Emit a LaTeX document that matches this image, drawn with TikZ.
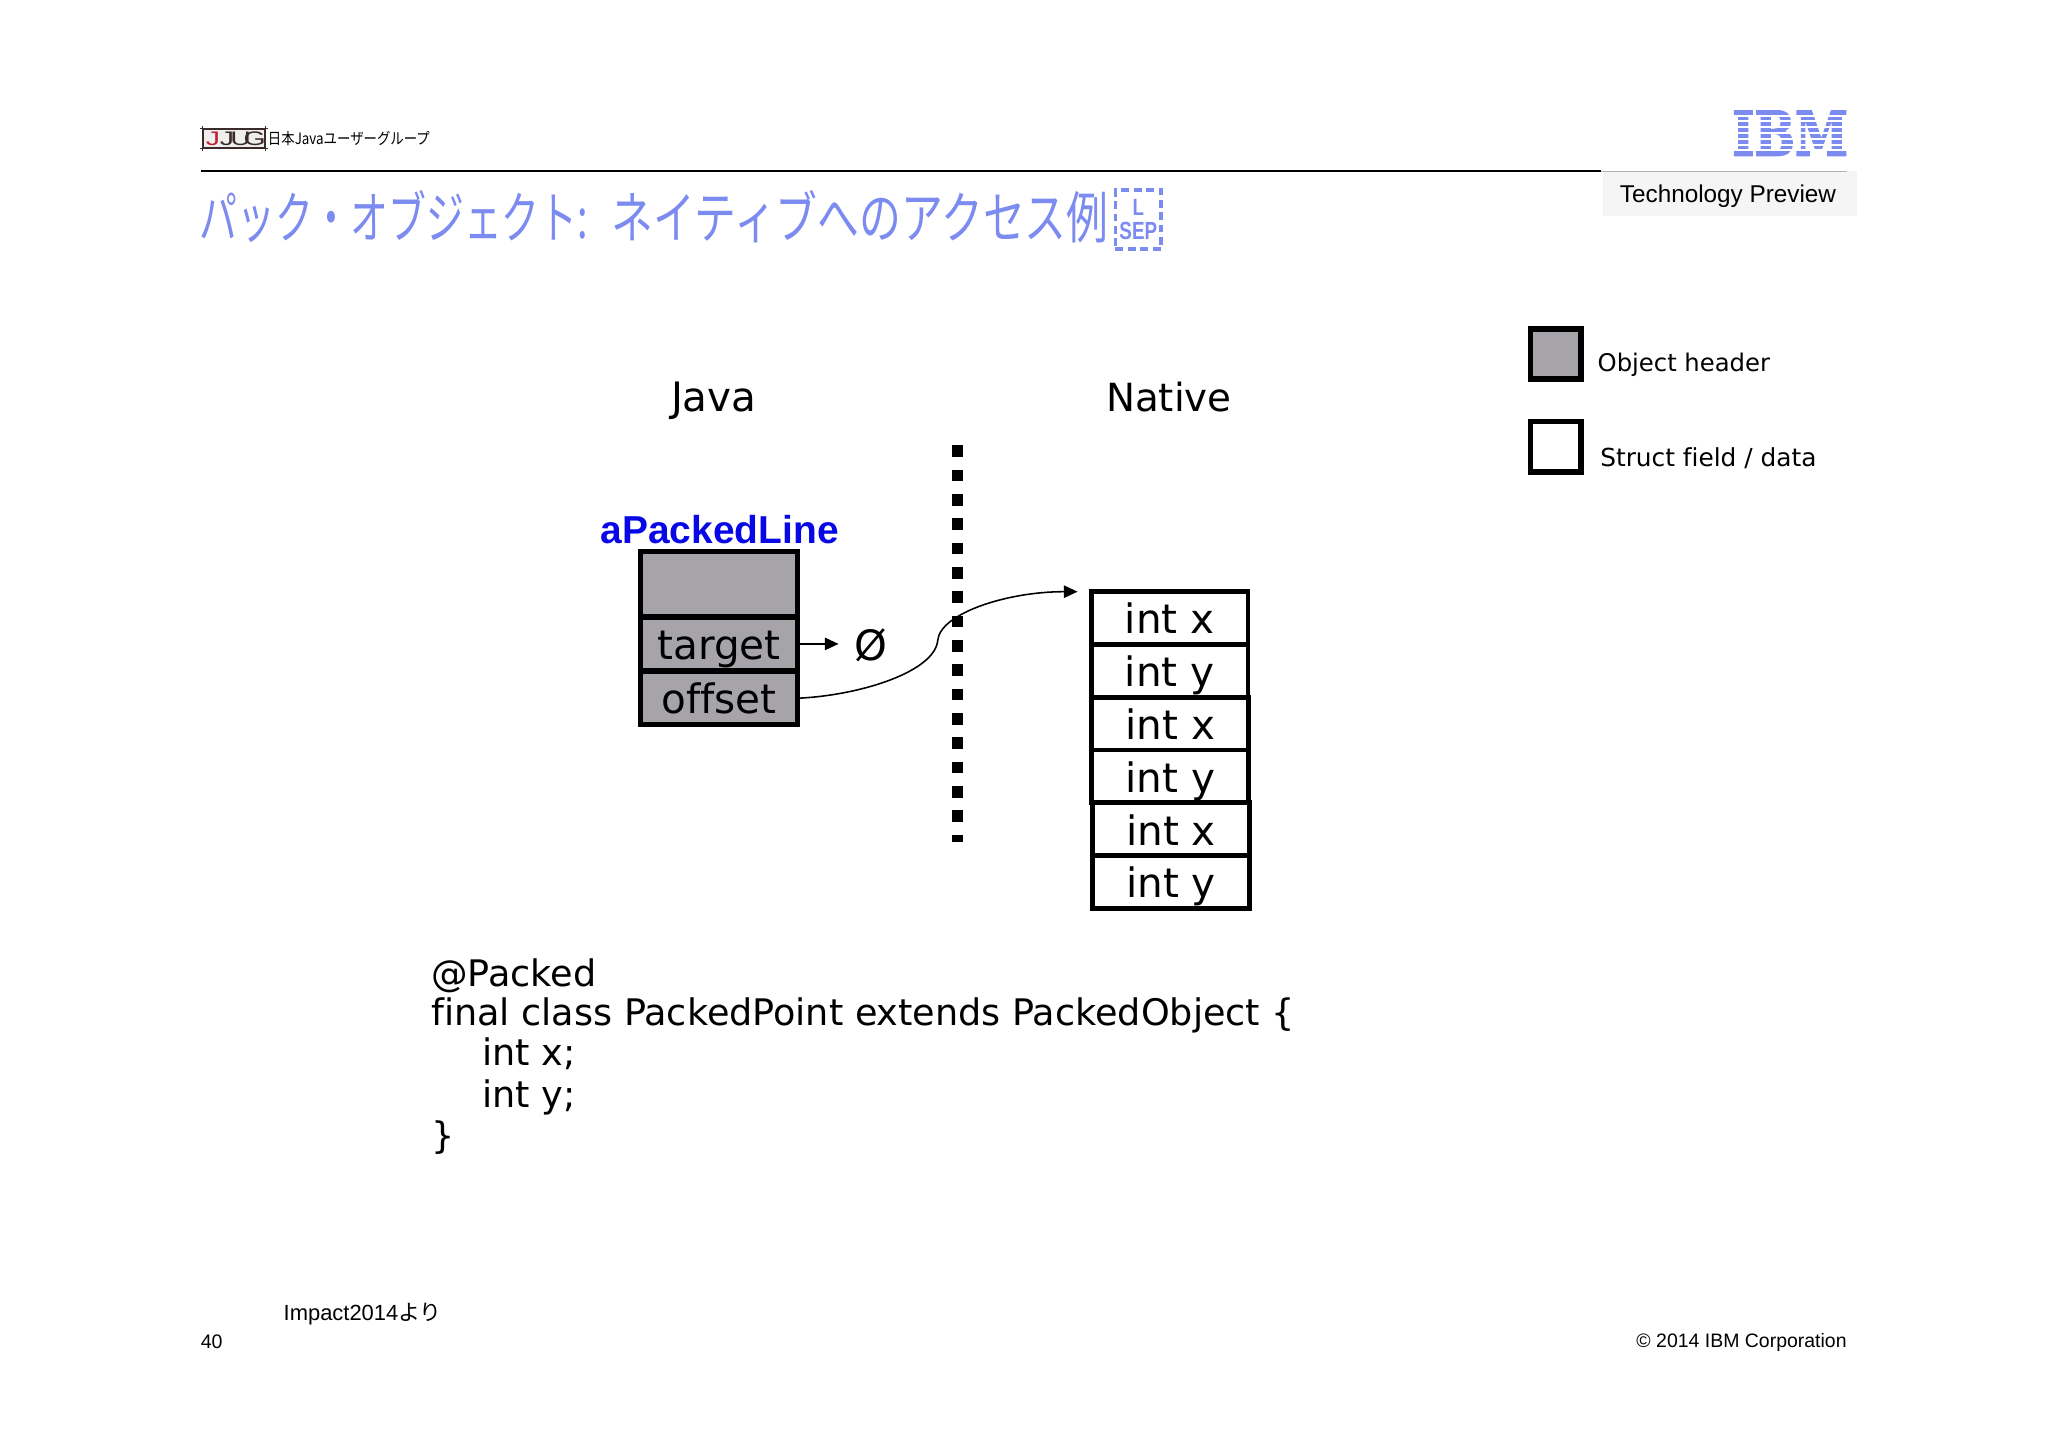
\documentclass[tikz,border=0pt]{standalone}
\usepackage{fontspec}
\usepackage{graphicx}
\usetikzlibrary{arrows.meta}
\setmainfont{Liberation Sans}
\newfontfamily\jpfont{Noto Sans CJK JP}
\newfontfamily\djvu[Ligatures=NoCommon]{DejaVu Sans}
\newfontfamily\slab[BoldFeatures={FakeBold=2.5}]{DejaVu Serif}
\definecolor{ibmblue}{HTML}{7B8BF0}
\definecolor{headgray}{HTML}{A6A4A8}
\definecolor{pkblue}{HTML}{0808E6}
\definecolor{jjdark}{HTML}{3A2A2A}
\definecolor{jjred}{HTML}{C02030}
\newcommand{\jjletter}[1]{\makebox[10.6pt]{\scalebox{1.45}[1]{#1}}}
\tikzset{
 cell/.style={draw=black,line width=3.8pt,minimum width=120pt,minimum height=40.6pt,inner sep=0pt,text height=30pt,text depth=6pt,font=\djvu\fontsize{31}{36}\selectfont},
 graycell/.style={cell,fill=headgray},
 whitecell/.style={cell,fill=white},
 legendbox/.style={draw=black,line width=4.4pt,minimum width=38.5pt,minimum height=38.5pt,inner sep=0pt},
 djtext/.style={inner sep=0pt,font=\djvu\fontsize{#1}{#1}\selectfont},
 codeline/.style={anchor=base west,inner sep=0pt,font=\djvu\fontsize{28}{28}\selectfont},
 link/.style={line width=1.2pt,-{Triangle[length=10.5pt,width=9.5pt]}},
}
\begin{document}
\begin{tikzpicture}[x=1pt,y=-1pt]
\useasboundingbox (0,0) rectangle (1568,1107.9);
% header
\coordinate (ruleL) at (154,131); \coordinate (ruleM) at (1226,131); \coordinate (ruleR) at (1414,131);
\node[fill=black!4,minimum width=195pt,minimum height=34pt,inner sep=0pt] (tp) at (1324.5,148) {};
\node[inner sep=0pt,font=\fontsize{18.6}{19}\selectfont] (tptext) at (1323,150) {Technology Preview};
\draw[line width=1.5pt] (ruleL) -- (ruleM);
\draw[line width=.5pt,black!30] (ruleM) -- (ruleR);
% IBM
\node[inner sep=0pt,text=ibmblue,font=\slab\bfseries\fontsize{47}{47}\selectfont,xscale=.78] (ibm) at (1370.5,102) {IBM};
\foreach \yy in {88.6,93,97.6,102,106.4,110.8,115.2}
  \draw[white,line width=1.5pt] (1322,\yy) -- (1420,\yy);
% JJUG
\node[draw=jjdark,line width=1.3pt,fill=jjdark!8,minimum width=47pt,minimum height=14pt,inner sep=0pt,font=\fontsize{15}{15}\selectfont,text=jjdark] (jjug) at (179,106) {\textcolor{jjred}{\jjletter{J}}\jjletter{J}\jjletter{U}\jjletter{G}};
\draw[jjdark,line width=1pt] ([xshift=-2pt]jjug.north west) -- ([xshift=2pt]jjug.north east) ([xshift=-2pt]jjug.south west) -- ([xshift=2pt]jjug.south east) ([yshift=2pt]jjug.north west) -- ([yshift=-2pt]jjug.south west) ([yshift=2pt]jjug.north east) -- ([yshift=-2pt]jjug.south east);
\node[anchor=west,inner sep=0pt,font=\jpfont\fontsize{12}{12}\selectfont,xscale=.855] (jjugtext) at (205,106) {日本Javaユーザーグループ};
% title
\node[anchor=west,inner sep=0pt,text=ibmblue,font=\jpfont\fontsize{43}{43}\selectfont] (title) at (152.5,166) {\scalebox{.675}[1]{パック・オブジェクト:}\hspace{18pt}\scalebox{.745}[1]{ネイティブへのアクセス例}};
\node[draw=ibmblue,line width=2.6pt,dash pattern=on 6pt off 3.5pt,text=ibmblue,minimum width=35pt,minimum height=45pt,inner sep=0pt,align=center,font=\bfseries\fontsize{19}{19}\selectfont] (sep) at (871.5,168) {\fontsize{18}{18}\selectfont\scalebox{.8}[1]{L}\\[-1pt]\scalebox{.76}[1]{SEP}};
% legend
\node[legendbox,fill=headgray] (lh) at (1191,271) {};
\node[legendbox,fill=white] (lf) at (1191,342) {};
\node[djtext=18.6,anchor=west] (lht) at (1223,279) {Object header};
\node[djtext=19,anchor=west] (lft) at (1225,351) {Struct field / data};
% columns
\node[djtext=31,anchor=base] (java) at (546.5,315) {Java};
\node[djtext=29.7,anchor=base] (native) at (895,315) {Native};
\coordinate (sepT) at (733,341); \coordinate (sepB) at (733,645);
\draw[line width=9pt,dash pattern=on 9pt off 9.63pt] (sepT) -- (sepB);
% java object
\node[inner sep=0pt,text=pkblue,font=\bfseries\fontsize{29.8}{29}\selectfont] (name) at (551,405.7) {aPackedLine};
\node[graycell,minimum height=50pt] (hdr) at (550.5,447) {};
\node[graycell] (target) at (550.5,493) {target};
\node[graycell] (offset) at (550.5,534.5) {offset};
\node[djtext=32] (null) at (667,494) {Ø};
\coordinate (nulltip) at (642,493);
\draw[link] (target.east) -- (nulltip);
% native cells
\node[whitecell] (c1) at (895.5,473) {int x};
\node[whitecell] (c2) at (895.5,513.5) {int y};
\node[whitecell] (c3) at (896,554) {int x};
\node[whitecell] (c4) at (896,594.5) {int y};
\node[whitecell] (c5) at (896.5,635) {int x};
\node[whitecell] (c6) at (896.5,675.5) {int y};
\coordinate (tip) at (825,453);
\draw[link] (offset.east) .. controls (660,532) and (716,514) .. (718,490) .. controls (720,470) and (770,453) .. (tip);
% code
\node[codeline] (l1) at (330,755) {@Packed};
\node[codeline] (l2) at (330,785) {final class PackedPoint extends PackedObject \{};
\node[codeline] (l3) at (369,816) {int x;};
\node[codeline] (l4) at (369,848) {int y;};
\node[codeline] (l5) at (330,879) {\}};
% footer
\node[anchor=west,inner sep=0pt,font=\fontsize{16.8}{17}\selectfont] (imp) at (217,1006) {Impact2014{\jpfont より}};
\node[anchor=west,inner sep=0pt,font=\fontsize{15}{15}\selectfont] (pg) at (153.5,1027) {40};
\node[anchor=east,inner sep=0pt,font=\fontsize{14.9}{15}\selectfont] (copy) at (1414,1027.5) {© 2014 IBM Corporation};
\end{tikzpicture}
\end{document}
